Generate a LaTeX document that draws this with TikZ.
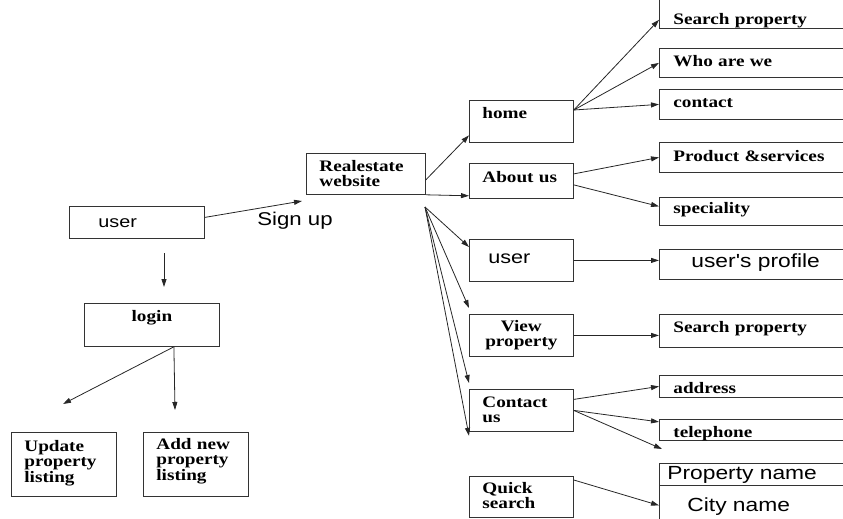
\documentclass[tikz,border=0pt]{standalone}
\usepackage{fontspec}
\usetikzlibrary{arrows.meta}
\newfontfamily\tnr{Liberation Serif}[FakeStretch=1.2]
\newfontfamily\arl{Liberation Sans}[FakeStretch=1.2]
\newcommand\bfnt{\tnr\bfseries\fontsize{16}{15.5}\selectfont}
\newcommand\sfnt{\arl\fontsize{19}{19}\selectfont}
\begin{document}
\begin{tikzpicture}[
  x=1pt, y=-1pt,
  cell/.style={draw=black!80, line width=0.8pt, anchor=north west, inner ysep=0pt,
    inner xsep=13pt, align=left, font=\bfnt, text height=18pt},
  mid/.style={cell, text width=78pt},
  leaf/.style={cell, inner xsep=14pt, text width=183pt},
  sans/.style={font=\sfnt},
  arr/.style={draw=black!85, line width=0.8pt, -{Triangle[length=8pt,width=5pt]}}
]
\useasboundingbox (0,0) rectangle (843,519);

\node[cell, sans, font=\arl\fontsize{16.5}{16.5}\selectfont, inner xsep=29pt, text width=77pt,
  text height=21pt, text depth=11pt] (usr) at (69,206) {user};
\node[font=\arl\fontsize{18.5}{18.5}\selectfont] (signup) at (295,221) {Sign up};
\node[cell, text width=93pt, text depth=23pt] (site) at (306,153) {Realestate\\website};
\node[cell, align=center, text width=109pt, text depth=25pt] (login) at (84,303) {login};
\node[cell, text width=79pt, text height=19pt, text depth=45pt] (upd) at (11,432) {Update\\property\\listing};
\node[cell, text width=79pt, text height=17pt, text depth=47pt] (addnew) at (143,432) {Add new\\property\\listing};

\node[mid, text depth=24pt] (home) at (469,100) {home};
\node[mid, text height=19pt, text depth=16pt] (about) at (469,163) {About us};
\node[mid, sans, font=\arl\fontsize{18}{18}\selectfont, inner xsep=19pt, text width=66pt,
  text height=24pt, text depth=18pt] (musr) at (469,239) {user};
\node[mid, align=center, text height=17pt, text depth=25pt] (view) at (469,314) {View\\property};
\node[mid, text depth=24pt] (contact) at (469,389) {Contact\\us};
\node[mid, text height=17pt, text depth=24pt] (quick) at (469,476) {Quick\\search};

\node[leaf, text height=28pt, text depth=4pt] (srch) at (659,-4) {Search property};
\node[leaf, text depth=11pt] (who) at (659,48) {Who are we};
\node[leaf, text depth=12pt] (cont) at (659,89) {contact};
\node[leaf, text height=19pt, text depth=11pt] (prod) at (659,142) {Product \&services};
\node[leaf, text height=16pt, text depth=12pt] (spec) at (659,197) {speciality};
\node[leaf, sans, inner xsep=32pt, text width=147pt, text depth=12pt] (prof) at (659,249) {user's profile};
\node[leaf, text depth=15pt] (srch2) at (659,314) {Search property};
\node[leaf, text depth=4pt] (addr) at (659,375) {address};
\node[leaf, text depth=3pt] (tel) at (659,419) {telephone};
\node[leaf, sans, inner xsep=8pt, text width=195pt, text height=16pt, text depth=6pt] (pname) at (659,463) {Property name};
\node[leaf, sans, inner xsep=28pt, text width=155pt, text height=26pt, text depth=14pt] (city) at (659,485) {City name};

\coordinate (su) at (302,201);
\coordinate (d1) at (164,253);
\coordinate (d2) at (164,287);
\coordinate (u1) at (63,404);
\coordinate (a1) at (175,410);
\coordinate (fan) at (425,207);
\coordinate (ct3) at (662,449);

\draw[arr] ([yshift=5pt]usr.east) -- (su);
\draw[arr] (d1) -- (d2);
\draw[arr] ([xshift=22pt]login.south) -- (u1);
\draw[arr] ([xshift=22pt]login.south) -- (a1);

\draw[arr] ([yshift=-6pt]site.east) -- ([yshift=-14pt]home.west);
\draw[arr] (site.south east) -- ([yshift=3pt]about.south west);
\draw[arr] (fan) -- ([yshift=-8pt]musr.north west);
\draw[arr] (fan) -- ([yshift=6pt]view.north west);
\draw[arr] (fan) -- ([yshift=6pt]contact.north west);
\draw[arr] (fan) -- ([yshift=-4pt]contact.south west);

\draw[arr] ([yshift=-10pt]home.north east) -- ([yshift=9pt]srch.south west);
\draw[arr] ([yshift=-10pt]home.north east) -- (who.west);
\draw[arr] ([yshift=-10pt]home.north east) -- (cont.west);
\draw[arr] ([yshift=7pt]about.east) -- (prod.west);
\draw[arr] ([yshift=-4pt]about.east) -- ([yshift=5pt]spec.west);
\draw[arr] (musr.east) -- (musr.east -| prof.west);
\draw[arr] (view.east) -- (view.east -| srch2.west);
\draw[arr] ([yshift=11pt]contact.east) -- (addr.west);
\draw[arr] (contact.east) -- ([yshift=8pt]tel.west);
\draw[arr] (contact.east) -- (ct3);
\draw[arr] ([yshift=-4pt]quick.north east) -- (city.west);
\end{tikzpicture}
\end{document}
